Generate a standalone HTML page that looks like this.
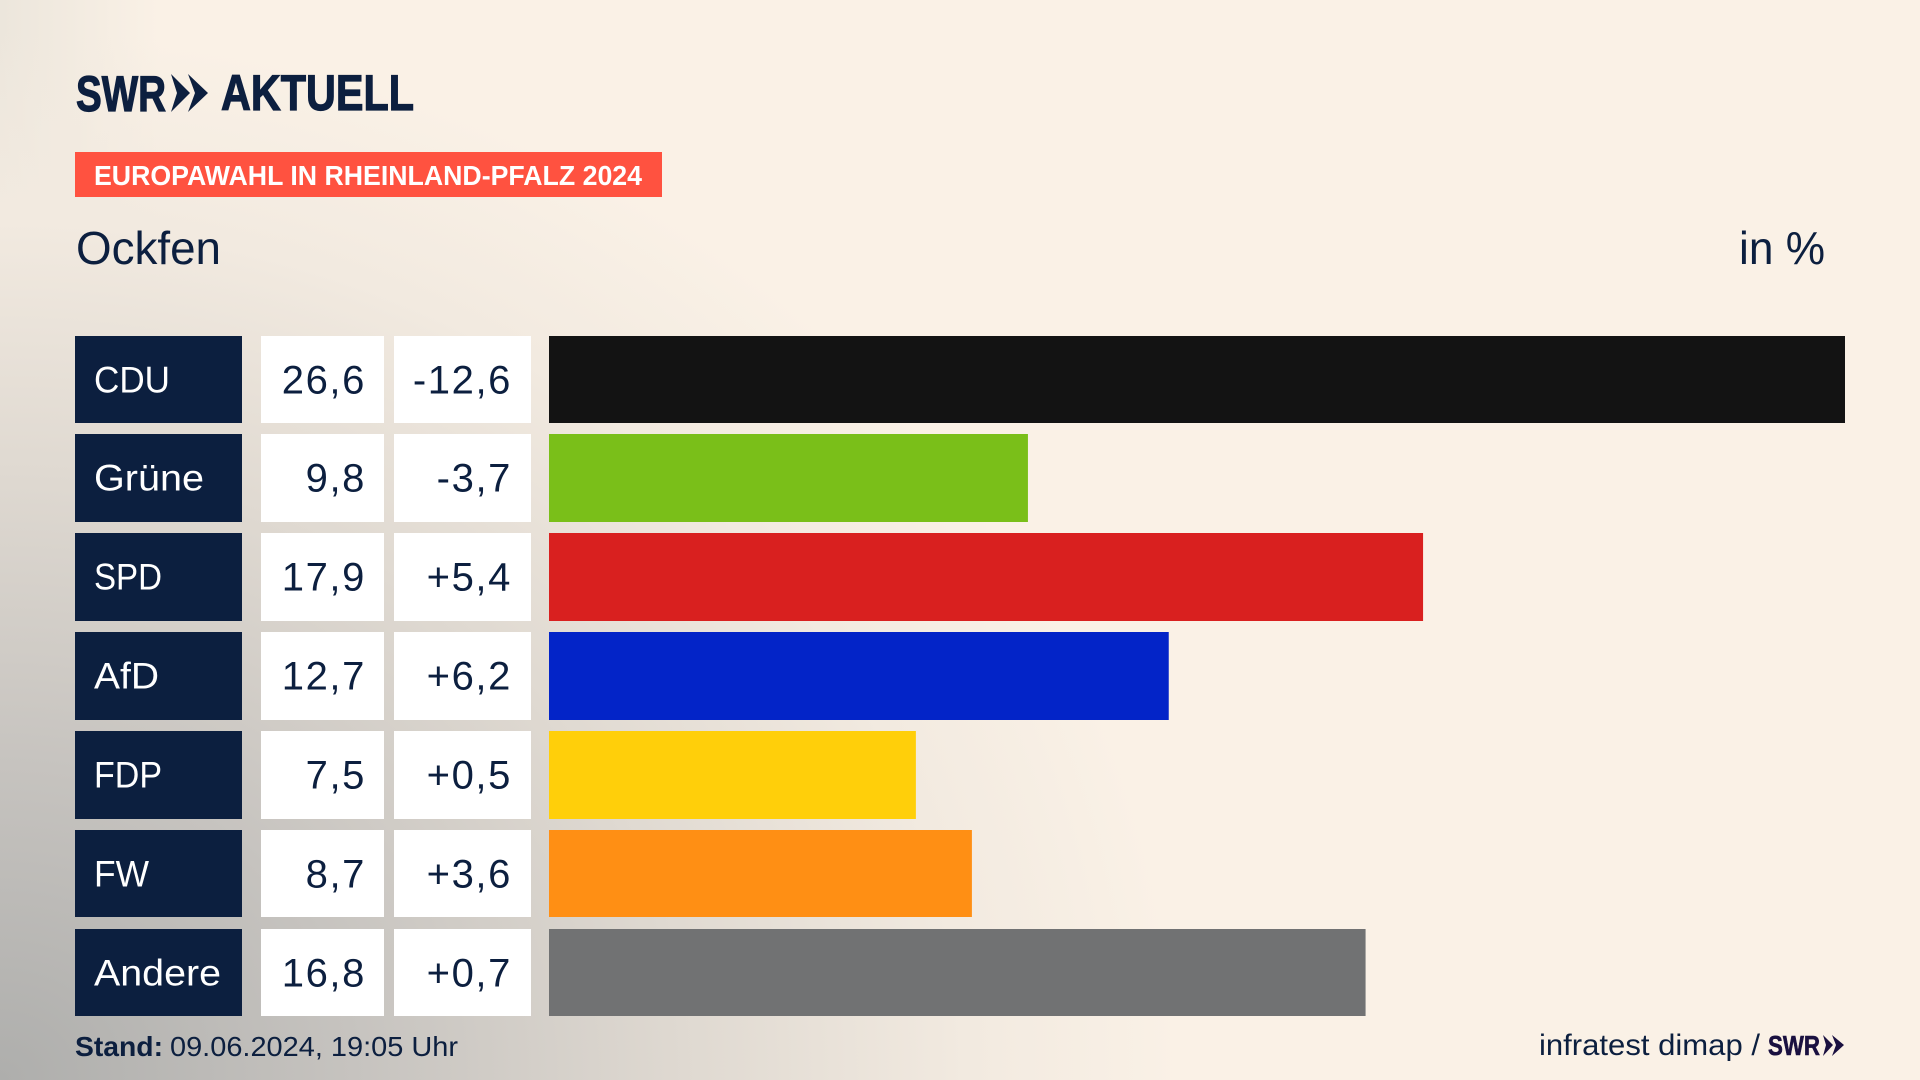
<!DOCTYPE html>
<html lang="de">
<head>
<meta charset="utf-8">
<title>Europawahl in Rheinland-Pfalz 2024 – Ockfen</title>
<style>
  html, body { margin: 0; padding: 0; width: 1920px; height: 1080px; overflow: hidden; }
  body {
    background-color: #faf1e6;
    background-image:
      radial-gradient(ellipse 1180px 1050px at 0px 1080px, #aeaeac 0%, #c6c3bf 30%, #dfd9d1 58%, #f2eae0 82%, rgba(250,241,230,0) 100%),
      linear-gradient(90deg, #ece6dc 0px, rgba(250,241,230,0) 160px);
  }
  svg { position: absolute; left: 0; top: 0; display: block; }
  text { font-family: "Liberation Sans", sans-serif; fill: #0c1f3f; }
</style>
</head>
<body>
<svg id="chart" width="1920" height="1080" viewBox="0 0 1920 1080" xmlns="http://www.w3.org/2000/svg">
  <g>
    <text x="76" y="111" font-size="50" font-weight="700" stroke="#0c1f3f" stroke-width="1.2" textLength="90" lengthAdjust="spacingAndGlyphs">SWR</text>
    <polygon points="171,74 190,93 171,112 177,93" fill="#0c1f3f"/>
    <polygon points="188,74 208,93 188,112 195,93" fill="#0c1f3f"/>
    <text x="221" y="110" font-size="50" font-weight="700" stroke="#0c1f3f" stroke-width="1.2" textLength="193" lengthAdjust="spacingAndGlyphs">AKTUELL</text>
  </g>
  <rect x="75" y="152" width="587" height="45" fill="#ff5240"/>
  <text x="94" y="185" font-size="28" font-weight="700" style="fill:#fff" textLength="548" lengthAdjust="spacingAndGlyphs">EUROPAWAHL IN RHEINLAND-PFALZ 2024</text>
  <text x="76" y="264" font-size="46" textLength="145" lengthAdjust="spacingAndGlyphs">Ockfen</text>
  <text x="1739" y="264" font-size="46" textLength="86" lengthAdjust="spacingAndGlyphs">in %</text>
  <g id="rows"></g>
  <g>
    <text x="75" y="1056" font-size="28" font-weight="700" textLength="88" lengthAdjust="spacingAndGlyphs">Stand:</text>
    <text x="170" y="1056" font-size="28" textLength="288" lengthAdjust="spacingAndGlyphs">09.06.2024, 19:05 Uhr</text>
  </g>
  <g>
    <text x="1539" y="1055" font-size="30" textLength="221" lengthAdjust="spacingAndGlyphs">infratest dimap /</text>
    <text x="1768" y="1055" font-size="28" font-weight="700" stroke="#1a1040" stroke-width="0.6" style="fill:#1a1040" textLength="52" lengthAdjust="spacingAndGlyphs">SWR</text>
    <polygon points="1823,1035 1833,1045 1823,1056 1826,1045" fill="#1a1040"/>
    <polygon points="1832,1035 1844,1045 1832,1056 1836,1045" fill="#1a1040"/>
  </g>
</svg>
<script>
const categories = ["CDU", "Grüne", "SPD", "AfD", "FDP", "FW", "Andere"];
const shares = [26.6, 9.83, 17.94, 12.72, 7.53, 8.68, 16.76];
const changes = [-12.6, -3.7, 5.4, 6.2, 0.5, 3.6, 0.7];
const barColors = ["#131313", "#7abf19", "#d9201f", "#0324c8", "#ffcf0a", "#ff8f14", "#717273"];
const labelFit = [76, 110, 68, 65, 68, 55, 127];

const NS = "http://www.w3.org/2000/svg";
const rowsGroup = document.getElementById("rows");
const axisMax = 26.6;
const barLeft = 549;
const barRight = 1845;
const rowTop = 335.6;
const rowPitch = 98.83;
const rowHeight = 87.6;

function xScale(value) {
  return (barRight - barLeft) * value / axisMax;
}
function yScale(index) {
  return rowTop + rowPitch * index;
}
function formatShare(value) {
  return value.toFixed(1).replace(".", ",");
}
function formatChange(value) {
  return (value > 0 ? "+" : "") + value.toFixed(1).replace(".", ",");
}
function makeRect(x, y, w, h, fill) {
  const el = document.createElementNS(NS, "rect");
  el.setAttribute("x", x);
  el.setAttribute("y", y);
  el.setAttribute("width", w);
  el.setAttribute("height", h);
  el.setAttribute("fill", fill);
  return el;
}
function makeText(str, x, y, anchor, size, spacing, color) {
  const el = document.createElementNS(NS, "text");
  el.textContent = str;
  el.setAttribute("x", x);
  el.setAttribute("y", y);
  el.setAttribute("font-size", size);
  el.setAttribute("text-anchor", anchor);
  el.setAttribute("letter-spacing", spacing);
  el.style.fill = color;
  return el;
}

categories.forEach(function (name, i) {
  const y = Math.round(yScale(i));
  const h = Math.round(yScale(i) + rowHeight) - y;
  const slug = name.toLowerCase().replace("ü", "ue");

  const labelBox = makeRect(75, y, 167, h, "#0c1f3f");
  
  
  rowsGroup.appendChild(labelBox);

  const label = makeText(name, 94, y + 56.5, "start", "37", "0", "#ffffff");
  label.setAttribute("textLength", labelFit[i]);
  label.setAttribute("lengthAdjust", "spacingAndGlyphs");
  
  
  rowsGroup.appendChild(label);

  const valueBox = makeRect(261, y, 123, h, "#ffffff");
  
  
  rowsGroup.appendChild(valueBox);

  const value = makeText(formatShare(shares[i]), 366, y + 57.5, "end", "40", "1.6", "#0c1f3f");
  
  
  rowsGroup.appendChild(value);

  const changeBox = makeRect(394, y, 137, h, "#ffffff");
  
  
  rowsGroup.appendChild(changeBox);

  const change = makeText(formatChange(changes[i]), 512, y + 57.5, "end", "40", "1.6", "#0c1f3f");
  
  
  rowsGroup.appendChild(change);

  const bar = makeRect(barLeft, y, xScale(shares[i]), h, barColors[i]);
  
  
  rowsGroup.appendChild(bar);
});
</script>
</body>
</html>
